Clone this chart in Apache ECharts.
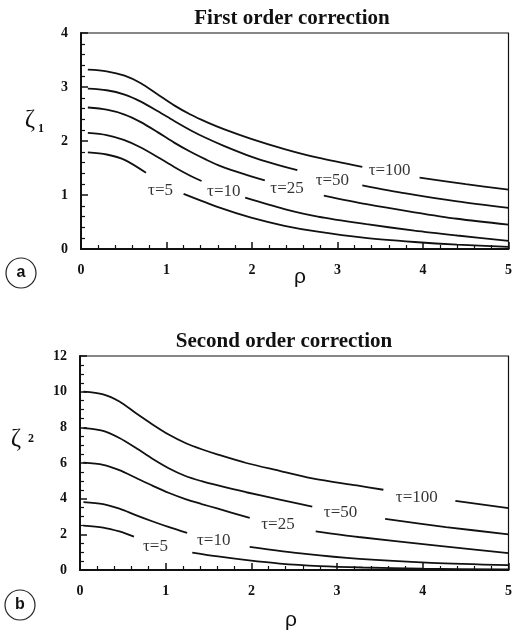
<!DOCTYPE html>
<html>
<head>
<meta charset="utf-8">
<script src="https://cdn.jsdelivr.net/npm/echarts@6/dist/echarts.min.js"></script>
<style>
  html, body { margin: 0; padding: 0; background: #fff; }
  #main { width: 515px; height: 634px; }
</style>
</head>
<body>
<div id="main"></div>
<script>
// curve names, same order in both panels
const tauNames = ['τ=5', 'τ=10', 'τ=25', 'τ=50', 'τ=100'];

// panel a: first order correction, [rho, zeta1]; null = gap left for the label
const a5 = [[0.08,1.79],[0.3,1.75],[0.51,1.65],[0.76,1.41],null,[1.2,1.02],[1.63,0.76],[1.99,0.58],[2.38,0.43],[2.77,0.32],[3.3,0.21],[3.9,0.13],[4.4,0.08],[5,0.04]];
const a10 = [[0.08,2.15],[0.3,2.11],[0.5,2.02],[0.7,1.88],[0.9,1.7],[1.09,1.52],[1.25,1.38],[1.41,1.26],null,[1.92,0.95],[2.38,0.74],[2.77,0.6],[3.34,0.46],[3.9,0.34],[4.4,0.25],[5,0.15]];
const a25 = [[0.08,2.62],[0.3,2.58],[0.51,2.49],[0.7,2.35],[0.9,2.16],[1.09,1.97],[1.28,1.8],[1.47,1.65],[1.64,1.53],[1.9,1.39],[2.15,1.27],null,[2.84,0.99],[3.34,0.83],[3.9,0.68],[4.4,0.56],[5,0.45]];
const a50 = [[0.08,2.97],[0.3,2.94],[0.51,2.86],[0.7,2.73],[0.9,2.55],[1.09,2.37],[1.28,2.2],[1.47,2.05],[1.67,1.91],[1.99,1.71],[2.25,1.58],[2.53,1.46],null,[3.29,1.18],[3.8,1.03],[4.4,0.88],[5,0.76]];
const a100 = [[0.08,3.32],[0.3,3.29],[0.51,3.21],[0.7,3.07],[0.89,2.87],[1.09,2.66],[1.28,2.49],[1.47,2.35],[1.67,2.22],[1.99,2.04],[2.38,1.85],[2.77,1.69],[3.29,1.52],null,[3.96,1.32],[4.5,1.2],[5,1.1]];
const labA = [[0.93,1.09],[1.67,1.07],[2.41,1.12],[2.94,1.26],[3.61,1.45]];

// panel b: second order correction, [rho, zeta2]
const b5 = [[0.04,2.49],[0.27,2.38],[0.46,2.16],[0.63,1.87],null,[1.31,0.98],[1.61,0.76],[1.95,0.55],[2.33,0.36],[2.8,0.22],[3.3,0.14],[4,0.07],[5,0.03]];
const b10 = [[0.04,3.81],[0.27,3.7],[0.46,3.44],[0.65,3.08],[0.85,2.72],[1.04,2.4],[1.25,2.08],null,[1.98,1.3],[2.63,0.9],[3.26,0.62],[4.1,0.4],[5,0.27]];
const b25 = [[0.04,6.02],[0.27,5.9],[0.46,5.6],[0.65,5.17],[0.85,4.72],[1.04,4.32],[1.23,3.98],[1.42,3.7],[1.6,3.45],[1.98,2.92],null,[2.75,2.17],[3.25,1.85],[4.11,1.4],[5,0.95]];
const b50 = [[0.04,7.95],[0.27,7.8],[0.46,7.4],[0.65,6.85],[0.85,6.22],[1.04,5.69],[1.23,5.27],[1.42,4.98],[1.61,4.74],[1.94,4.36],[2.33,3.95],[2.71,3.56],null,[3.56,2.87],[4.27,2.41],[5,2]];
const b100 = [[0.04,10],[0.27,9.85],[0.46,9.45],[0.65,8.8],[0.85,8.15],[1.04,7.58],[1.23,7.12],[1.42,6.77],[1.61,6.47],[1.94,6],[2.33,5.56],[2.71,5.14],[3.23,4.74],[3.54,4.5],null,[4.38,3.88],[5,3.47]];
const labB = [[0.88,1.31],[1.56,1.66],[2.31,2.57],[3.04,3.25],[3.93,4.08]];

const serif = 'Liberation Serif';
const ink = '#111';

function curve(data, idx) {
  return {
    type: 'line',
    xAxisIndex: idx, yAxisIndex: idx,
    data: data.map(p => p ? p : ['-', '-']),
    smooth: 0.3,
    showSymbol: false,
    connectNulls: false,
    silent: true,
    lineStyle: { color: ink, width: 1.8 }
  };
}

function tags(pos, idx) {
  return {
    type: 'scatter',
    xAxisIndex: idx, yAxisIndex: idx,
    symbolSize: 0,
    silent: true,
    data: pos.map((p, i) => ({ name: tauNames[i], value: p })),
    label: {
      show: true, position: 'inside', formatter: '{b}',
      fontFamily: serif, fontSize: 17, color: '#000'
    }
  };
}

function xAx(idx) {
  return {
    type: 'value', gridIndex: idx, min: 0, max: 5, interval: 1,
    axisLine: { lineStyle: { color: ink, width: 2 } },
    axisTick: { inside: true, length: 7, lineStyle: { color: ink, width: 1.5 } },
    minorTick: { show: true, splitNumber: 5, length: 4, lineStyle: { color: ink, width: 1.2 } },
    splitLine: { show: false },
    axisLabel: { margin: 14, fontFamily: serif, fontWeight: 'bold', fontSize: 14, color: ink }
  };
}

function yAx(idx, max, step, minor) {
  return {
    type: 'value', gridIndex: idx, min: 0, max: max, interval: step,
    axisLine: { lineStyle: { color: ink, width: 2 } },
    axisTick: { inside: true, length: 7, lineStyle: { color: ink, width: 1.5 } },
    minorTick: { show: true, splitNumber: minor, length: 4, lineStyle: { color: ink, width: 1.2 } },
    splitLine: { show: false },
    axisLabel: { margin: 13, fontFamily: serif, fontWeight: 'bold', fontSize: 14, color: ink }
  };
}

function txt(x, y, text, font, align) {
  return {
    type: 'text', x: x, y: y, silent: true,
    style: {
      text: text, font: font, fill: ink,
      align: align || 'center', verticalAlign: 'middle',
      textAlign: align || 'center', textVerticalAlign: 'middle'
    }
  };
}

const chart = echarts.init(document.getElementById('main'), null, { renderer: 'canvas' });

chart.setOption({
  backgroundColor: '#fff',
  animation: false,
  grid: [
    { left: 81, top: 33, width: 432, height: 216, show: true, borderColor: ink, borderWidth: 1.2, backgroundColor: 'transparent' },
    { left: 80, top: 356, width: 433, height: 214, show: true, borderColor: ink, borderWidth: 1.2, backgroundColor: 'transparent' }
  ],
  xAxis: [xAx(0), xAx(1)],
  yAxis: [yAx(0, 4, 1, 5), yAx(1, 12, 2, 4)],
  series: [
    curve(a5, 0), curve(a10, 0), curve(a25, 0), curve(a50, 0), curve(a100, 0),
    tags(labA, 0),
    curve(b5, 1), curve(b10, 1), curve(b25, 1), curve(b50, 1), curve(b100, 1),
    tags(labB, 1)
  ],
  graphic: [
    txt(292, 19, 'First order correction', 'bold 21px "Liberation Serif"'),
    txt(284, 342, 'Second order correction', 'bold 21px "Liberation Serif"'),
    txt(30, 120, 'ζ', '25px "Liberation Serif"'),
    txt(41, 129, '1', 'bold 12px "Liberation Serif"'),
    txt(16, 439, 'ζ', '25px "Liberation Serif"'),
    txt(31, 439, '2', 'bold 12px "Liberation Serif"'),
    txt(300, 277, 'ρ', '21px "Liberation Sans"'),
    txt(291, 620, 'ρ', '21px "Liberation Sans"'),
    { type: 'circle', shape: { cx: 21, cy: 273, r: 15 }, style: { fill: '#fff', stroke: '#222', lineWidth: 1.2 } },
    txt(21, 273, 'a', 'bold 16px "Liberation Sans"'),
    { type: 'circle', shape: { cx: 20, cy: 605, r: 15 }, style: { fill: '#fff', stroke: '#222', lineWidth: 1.2 } },
    txt(20, 605, 'b', 'bold 16px "Liberation Sans"')
  ]
});
</script>
</body>
</html>
